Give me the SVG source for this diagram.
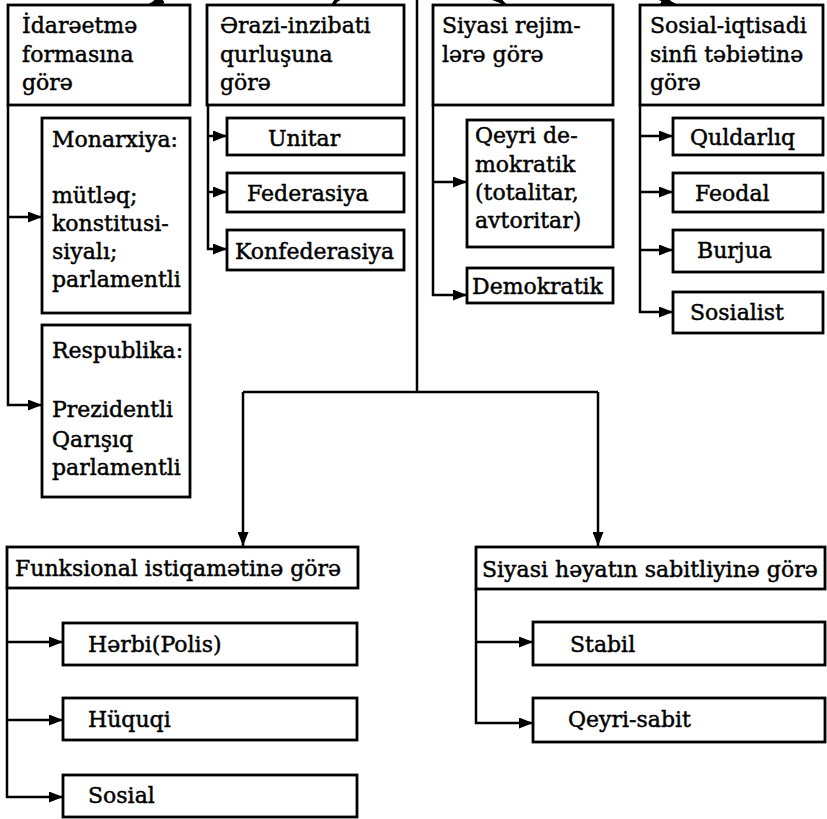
<svg xmlns="http://www.w3.org/2000/svg" width="827" height="819" viewBox="0 0 827 819">
<defs>
<marker id="ah" markerUnits="userSpaceOnUse" markerWidth="14" markerHeight="11" refX="14" refY="5.5" orient="auto">
<path d="M0,0 L14,5.5 L0,11 z" fill="#000"/>
</marker>
</defs>
<style>
rect{fill:#fff;stroke:#000;stroke-width:2.8}
text{font-family:"DejaVu Serif","Liberation Serif",serif;font-size:22px;fill:#000;stroke:#000;stroke-width:0.45}
.c path{fill:none;stroke:#000;stroke-width:2.5}
.c .a{marker-end:url(#ah)}
</style>
<rect x="0" y="0" width="827" height="819" style="stroke:none"/>
<g class="c" id="connectors">
<path class="a" d="M195,-18 L150,5" style="stroke-width:3.5"/>
<path class="a" d="M350,-20 L333,5" style="stroke-width:3.5"/>
<path class="a" d="M478,-20 L505,5" style="stroke-width:3.5"/>
<path class="a" d="M630,-14 L675,5" style="stroke-width:3.5"/>
<path d="M417,0 V392"/>
<path d="M243,392 H598"/>
<path class="a" d="M243,392 V546"/>
<path class="a" d="M598,392 V546"/>
<path class="a" d="M8,105 V405 H42"/>
<path class="a" d="M8,217 H42"/>
<path class="a" d="M208,105 V249 H227"/>
<path class="a" d="M208,136 H227"/>
<path class="a" d="M208,192 H227"/>
<path class="a" d="M433,105 V295 H467"/>
<path class="a" d="M433,182 H467"/>
<path class="a" d="M640,105 V312 H673"/>
<path class="a" d="M640,136 H673"/>
<path class="a" d="M640,192 H673"/>
<path class="a" d="M640,250 H673"/>
<path class="a" d="M7,588 V797 H63"/>
<path class="a" d="M7,642 H63"/>
<path class="a" d="M7,720 H63"/>
<path class="a" d="M476,589 V723 H533"/>
<path class="a" d="M476,642 H533"/>
</g>
<g id="idareetme"><rect x="8" y="5" width="182" height="100"/><text x="22" y="33">İdarəetmə</text><text x="22" y="62">formasına</text><text x="22" y="90">görə</text></g>
<g id="erazi"><rect x="207" y="5" width="197" height="100"/><text x="220" y="33">Ərazi-inzibati</text><text x="220" y="62">qurluşuna</text><text x="220" y="90">görə</text></g>
<g id="siyasi-rejim"><rect x="433" y="5" width="180" height="100"/><text x="442" y="33">Siyasi rejim-</text><text x="442" y="62">lərə görə</text></g>
<g id="sosial-iqtisadi"><rect x="640" y="5" width="183" height="100"/><text x="650" y="33">Sosial-iqtisadi</text><text x="650" y="62">sinfi təbiətinə</text><text x="650" y="90">görə</text></g>
<g id="monarxiya"><rect x="42" y="118" width="148" height="195"/><text x="52" y="147">Monarxiya:</text><text x="52" y="203">mütləq;</text><text x="52" y="231">konstitusi-</text><text x="52" y="259">siyalı;</text><text x="52" y="287">parlamentli</text></g>
<g id="respublika"><rect x="42" y="325" width="148" height="172"/><text x="52" y="358">Respublika:</text><text x="52" y="417">Prezidentli</text><text x="52" y="447">Qarışıq</text><text x="52" y="475">parlamentli</text></g>
<g id="unitar"><rect x="227" y="118" width="177" height="37"/><text x="268" y="146">Unitar</text></g>
<g id="federasiya"><rect x="227" y="173" width="177" height="39"/><text x="247" y="201">Federasiya</text></g>
<g id="konfederasiya"><rect x="227" y="230" width="177" height="40"/><text x="235" y="259">Konfederasiya</text></g>
<g id="qeyri-demokratik"><rect x="467" y="120" width="146" height="127"/><text x="475" y="143">Qeyri de-</text><text x="475" y="172">mokratik</text><text x="475" y="200">(totalitar,</text><text x="475" y="228">avtoritar)</text></g>
<g id="demokratik"><rect x="467" y="268" width="146" height="35"/><text x="472" y="294">Demokratik</text></g>
<g id="quldarliq"><rect x="673" y="118" width="150" height="37"/><text x="690" y="145">Quldarlıq</text></g>
<g id="feodal"><rect x="673" y="173" width="150" height="39"/><text x="695" y="201">Feodal</text></g>
<g id="burjua"><rect x="673" y="230" width="150" height="42"/><text x="697" y="258">Burjua</text></g>
<g id="sosialist"><rect x="673" y="292" width="150" height="41"/><text x="690" y="320">Sosialist</text></g>
<g id="funksional"><rect x="7" y="547" width="351" height="41"/><text x="15" y="576">Funksional istiqamətinə görə</text></g>
<g id="herbi"><rect x="63" y="623" width="294" height="42"/><text x="88" y="652">Hərbi(Polis)</text></g>
<g id="huquqi"><rect x="63" y="698" width="294" height="42"/><text x="88" y="727">Hüquqi</text></g>
<g id="sosial"><rect x="63" y="775" width="294" height="42"/><text x="88" y="803">Sosial</text></g>
<g id="siyasi-heyat"><rect x="476" y="547" width="349" height="42"/><text x="482" y="577">Siyasi həyatın sabitliyinə görə</text></g>
<g id="stabil"><rect x="533" y="622" width="292" height="43"/><text x="570" y="652">Stabil</text></g>
<g id="qeyri-sabit"><rect x="533" y="698" width="292" height="44"/><text x="568" y="727">Qeyri-sabit</text></g>
</svg>
